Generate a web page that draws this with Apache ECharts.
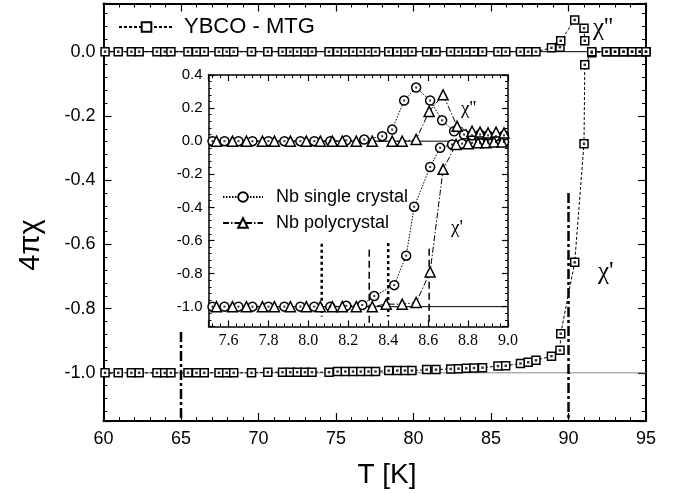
<!DOCTYPE html>
<html>
<head>
<meta charset="utf-8">
<script src="https://cdn.jsdelivr.net/npm/echarts@6/dist/echarts.min.js"></script>
<style>
  html, body { margin: 0; padding: 0; background: #fff; }
  #chart { width: 680px; height: 493px; }
</style>
</head>
<body>
<div id="chart"></div>
<script>
// YBCO - MTG, main plot (T in K)
var ybcoT = [60.1, 60.95, 61.8, 62.3, 63.45, 63.95, 64.35, 65.45, 66.0, 66.5,
  67.45, 67.95, 68.4, 69.55, 70.6, 71.55, 72.05, 72.5, 73.0, 73.45,
  74.55, 75.1, 75.6, 76.1, 76.6, 77.1, 77.55, 78.4, 78.95, 79.45,
  79.9, 80.85, 81.45, 82.4, 82.9, 83.4, 83.9, 84.45, 85.45, 85.95,
  86.9, 87.4, 87.9, 88.9, 89.45, 89.5, 90.4, 91.0, 91.05, 91.5,
  92.45, 93.0, 93.55, 94.1, 94.6, 95.0];
// chi'
var ybcoChi1 = [-1.0, -1.0, -1.0, -1.0, -1.0, -1.0, -1.0, -1.0, -1.0, -1.0,
  -1.0, -1.0, -1.0, -1.0, -0.998, -0.998, -0.998, -0.998, -0.998, -0.998,
  -0.998, -0.996, -0.996, -0.996, -0.996, -0.996, -0.996, -0.993, -0.993, -0.993,
  -0.993, -0.99, -0.99, -0.988, -0.987, -0.986, -0.985, -0.984, -0.979, -0.978,
  -0.971, -0.967, -0.961, -0.948, -0.93, -0.878, -0.656, -0.287, -0.041, -0.003,
  0, 0, 0, 0, 0, 0];
// chi''
var ybcoChi2 = [0, 0, 0, 0, 0, 0, 0, 0, 0, 0,
  0, 0, 0, 0, 0, 0, 0, 0, 0, 0,
  0, 0, 0, 0, 0, 0, 0, 0, 0, 0,
  0, 0, 0, 0, 0, 0, 0, 0, 0, 0,
  0, 0, 0, 0.012, 0.014, 0.034, 0.099, 0.073, 0.034, 0,
  0, 0, 0, 0, 0, 0];

// Nb single crystal (inset)
var singleT1 = [7.52, 7.58, 7.65, 7.72, 7.80, 7.88, 7.96, 8.03, 8.11, 8.19, 8.27, 8.33,
  8.43, 8.49, 8.53, 8.61, 8.66, 8.72, 8.77, 8.82, 8.86, 8.90, 8.94, 8.98];
var singleChi1 = [-1.0, -1.0, -1.0, -1.0, -1.0, -1.0, -1.0, -1.0, -1.0, -0.995, -0.99, -0.936,
  -0.87, -0.692, -0.396, -0.156, -0.04, -0.02, -0.015, -0.01, -0.01, -0.008, -0.005, -0.005];
var singleT2 = [7.52, 7.58, 7.65, 7.72, 7.80, 7.88, 7.96, 8.03, 8.11, 8.19, 8.28, 8.37,
  8.42, 8.48, 8.54, 8.61, 8.67, 8.73, 8.78, 8.82, 8.86, 8.90, 8.94, 8.98];
var singleChi2 = [0, 0, 0, 0, 0, 0, 0, 0, 0, 0.005, 0.01, 0.03,
  0.07, 0.246, 0.324, 0.246, 0.126, 0.06, 0.04, 0.035, 0.04, 0.035, 0.03, 0.035];

// Nb polycrystal (inset)
var polyT1 = [7.54, 7.62, 7.69, 7.77, 7.83, 7.91, 7.99, 8.06, 8.12, 8.17, 8.24, 8.32,
  8.39, 8.47, 8.54, 8.61, 8.675, 8.74, 8.80, 8.85, 8.89, 8.93, 8.97];
var polyChi1 = [-1.0, -1.0, -1.0, -1.0, -1.0, -1.0, -1.0, -1.0, -1.0, -1.0, -1.0, -1.0,
  -0.985, -0.985, -0.975, -0.79, -0.17, -0.02, -0.015, -0.01, -0.01, -0.005, -0.005];
var polyT2 = [7.54, 7.62, 7.69, 7.77, 7.83, 7.91, 7.99, 8.06, 8.12, 8.17, 8.24, 8.32,
  8.42, 8.47, 8.54, 8.605, 8.675, 8.745, 8.82, 8.86, 8.90, 8.94, 8.98];
var polyChi2 = [0, 0, 0, 0, 0, 0, 0, 0, 0, 0, 0, 0,
  0, 0, 0.01, 0.18, 0.28, 0.09, 0.06, 0.055, 0.05, 0.055, 0.05];

// vertical marker lines: T, top value, bottom value
var mainMarkT = [65, 90];
var mainMarkTop = [-0.873, -0.44];
var insetMarkT = [8.067, 8.305, 8.40, 8.605];
var insetMarkTop = [-0.62, -0.656, -0.616, -0.65];
var insetMarkBottom = [-1.06, -1.12, -1.06, -1.12];

(function () {
    var myChart = echarts.init(document.getElementById('chart'));

    function zip(xs, ys) {
        return xs.map(function (x, i) { return [x, ys[i]]; });
    }
    function fmt(v) {
        return Math.abs(v) < 1e-9 ? '0.0' : v.toFixed(1);
    }
    // one side of a plot frame
    function frame(gridIndex, position, min, max, lw, tickLen, label) {
        return {
            type: 'value', gridIndex: gridIndex, position: position,
            min: min, max: max, splitNumber: 7,
            axisLine: { show: true, onZero: false, lineStyle: { color: '#000', width: lw } },
            axisTick: { show: true, inside: true, length: tickLen, lineStyle: { color: '#000', width: 1.2 } },
            minorTick: { show: true, splitNumber: 5, length: tickLen / 2, lineStyle: { color: '#000', width: 1 } },
            splitLine: { show: false },
            axisLabel: label ? Object.assign({ show: true, color: '#000', formatter: fmt }, label) : { show: false }
        };
    }

    var sans = 'Liberation Sans';
    var serif = '"Liberation Serif", "DejaVu Serif", serif';

    var xMain = frame(0, 'bottom', 60, 95, 2, 8, { fontSize: 18, fontFamily: sans, margin: 9, formatter: null });
    xMain.interval = 5;
    var xMainTop = frame(0, 'top', 60, 95, 2, 8, null);
    xMainTop.interval = 5;
    var xInset = frame(1, 'bottom', 7.5, 9.0, 1.5, 6, { fontSize: 16, fontFamily: serif, margin: 6, showMinLabel: false });
    var xInsetTop = frame(1, 'top', 7.5, 9.0, 1.5, 6, null);

    var yMain = frame(0, 'left', -1.15, 0.15, 2, 8, { fontSize: 18, fontFamily: sans, margin: 8, showMinLabel: false, showMaxLabel: false });
    var yMainRight = frame(0, 'right', -1.15, 0.15, 2, 8, null);
    var yInset = frame(1, 'left', -1.12, 0.4, 1.5, 6, { fontSize: 15, fontFamily: sans, margin: 6, showMinLabel: false });
    var yInsetRight = frame(1, 'right', -1.12, 0.4, 1.5, 6, null);

    var series = [];

    // reference lines
    series.push({ type: 'line', xAxisIndex: 0, yAxisIndex: 0, data: [[60, -1], [95, -1]], symbol: 'none', silent: true, z: 1,
        lineStyle: { color: '#888', width: 1 } });
    series.push({ type: 'line', xAxisIndex: 0, yAxisIndex: 0, data: [[60, 0], [95, 0]], symbol: 'none', silent: true, z: 1,
        lineStyle: { color: '#000', width: 1 } });
    series.push({ type: 'line', xAxisIndex: 2, yAxisIndex: 2, data: [[7.5, -1], [9.0, -1]], symbol: 'none', silent: true, z: 1,
        lineStyle: { color: '#000', width: 1 } });
    series.push({ type: 'line', xAxisIndex: 2, yAxisIndex: 2, data: [[7.5, 0], [9.0, 0]], symbol: 'none', silent: true, z: 1,
        lineStyle: { color: '#000', width: 1 } });

    mainMarkT.forEach(function (t, i) {
        series.push({ type: 'line', xAxisIndex: 0, yAxisIndex: 0, data: [[t, mainMarkTop[i]], [t, -1.15]],
            symbol: 'none', silent: true, z: 1,
            lineStyle: { color: '#000', width: 2.5, type: [10, 3, 3, 3] } });
    });
    insetMarkT.forEach(function (t, i) {
        var dotted = i % 2 === 0;
        series.push({ type: 'line', xAxisIndex: 2, yAxisIndex: 2, data: [[t, insetMarkTop[i]], [t, insetMarkBottom[i]]],
            symbol: 'none', silent: true, z: 1,
            lineStyle: { color: '#000', width: dotted ? 2.5 : 1.5, type: dotted ? [3, 3] : [7, 4] } });
    });

    function dataSeries(name, xi, yi, data, symbol, size, lineType) {
        return {
            name: name, type: 'line', xAxisIndex: xi, yAxisIndex: yi, data: data,
            symbol: symbol, symbolSize: size, showAllSymbol: true, z: 3,
            itemStyle: { color: '#fff', borderColor: '#000', borderWidth: 1.5 },
            lineStyle: { color: '#000', width: 1, type: lineType }
        };
    }
    function dotSeries(xi, yi, data, size) {
        return {
            type: 'scatter', xAxisIndex: xi, yAxisIndex: yi, data: data, symbol: 'rect', symbolSize: size,
            silent: true, z: 4, itemStyle: { color: '#000' }
        };
    }

    var y1 = zip(ybcoT, ybcoChi1), y2 = zip(ybcoT, ybcoChi2);
    series.push(dataSeries('YBCO - MTG', 0, 0, y1, 'rect', 8, [3, 2]));
    series.push(dataSeries('YBCO - MTG', 0, 0, y2, 'rect', 8, [3, 2]));
    series.push(dotSeries(0, 0, y1, 2.5));
    series.push(dotSeries(0, 0, y2, 2.5));

    var s1 = zip(singleT1, singleChi1), s2 = zip(singleT2, singleChi2);
    series.push(dataSeries('Nb single crystal', 2, 2, s1, 'circle', 9, [1.5, 1.5]));
    series.push(dataSeries('Nb single crystal', 2, 2, s2, 'circle', 9, [1.5, 1.5]));
    series.push(dotSeries(2, 2, s1, 2));
    series.push(dotSeries(2, 2, s2, 2));

    series.push(dataSeries('Nb polycrystal', 2, 2, zip(polyT1, polyChi1), 'triangle', 10, [6, 2, 1.5, 2]));
    series.push(dataSeries('Nb polycrystal', 2, 2, zip(polyT2, polyChi2), 'triangle', 10, [6, 2, 1.5, 2]));

    // chi annotations
    function chiLabel(text, x, y, size) {
        return {
            type: 'text', x: x, y: y, z: 10,
            style: { text: text, fill: '#000', fontSize: size, fontFamily: serif,
                align: 'left', verticalAlign: 'middle', textAlign: 'left', textVerticalAlign: 'middle' }
        };
    }

    var option = {
        animation: false,
        backgroundColor: '#fff',
        grid: [
            { left: 103.5, right: 34, top: 3.5, bottom: 72 },
            { left: 208.5, right: 172, top: 75, bottom: 166.5, show: true, backgroundColor: '#fff', borderWidth: 0, z: 0 }
        ],
        xAxis: [xMain, xMainTop, xInset, xInsetTop],
        yAxis: [yMain, yMainRight, yInset, yInsetRight],
        legend: [
            {
                data: ['YBCO - MTG'], left: 118, top: 16, padding: 0,
                itemWidth: 55, itemHeight: 12,
                textStyle: { fontSize: 22, fontFamily: sans, color: '#000', padding: [0, 0, 0, 5] }
            },
            {
                data: ['Nb single crystal', 'Nb polycrystal'], orient: 'vertical', left: 222, top: 188, padding: 0,
                itemWidth: 40, itemHeight: 12, itemGap: 8,
                textStyle: { fontSize: 18, fontFamily: sans, color: '#000', padding: [0, 0, 0, 8] }
            }
        ],
        graphic: [
            chiLabel('χ\'\'', 593, 28, 25),
            chiLabel('χ\'', 598, 272, 25),
            chiLabel('χ\'\'', 461, 109, 19),
            chiLabel('χ\'', 451, 228, 19),
            {
                type: 'text', x: 31, y: 245, rotation: Math.PI / 2, z: 10,
                style: { text: '4πχ', fill: '#000', fontSize: 29, fontFamily: sans,
                    align: 'center', verticalAlign: 'middle', textAlign: 'center', textVerticalAlign: 'middle' }
            },
            {
                type: 'text', x: 387, y: 475, z: 10,
                style: { text: 'T [K]', fill: '#000', fontSize: 28, fontFamily: sans,
                    align: 'center', verticalAlign: 'middle', textAlign: 'center', textVerticalAlign: 'middle' }
            }
        ],
        series: series
    };

    myChart.setOption(option);
})();
</script>
</body>
</html>
